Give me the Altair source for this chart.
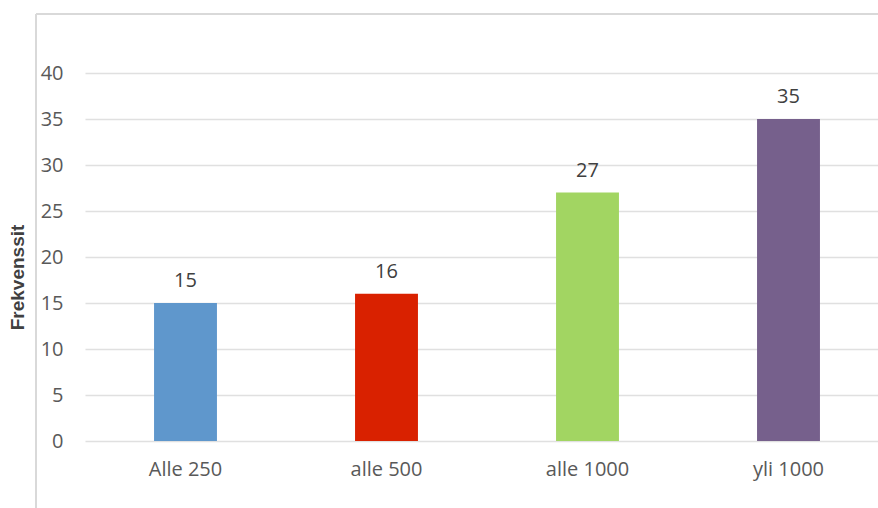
import altair as alt
import pandas as pd

categories = ["Alle 250", "alle 500", "alle 1000", "yli 1000"]
values = [15, 16, 27, 35]
colors = ["#5f97cc", "#d92100", "#a2d562", "#76608c"]

df = pd.DataFrame({"cat": categories, "val": values, "col": colors})

x = alt.X("cat:N", sort=categories, title=None,
          scale=alt.Scale(range=[0, 804], paddingInner=0.687, paddingOuter=0.3435),
          axis=alt.Axis(labelAngle=0, labelFont="Open Sans", labelFontSize=20,
                        labelColor="#595959", labelPadding=18, ticks=False, domain=False))
y = alt.Y("val:Q", title="Frekvenssit",
          scale=alt.Scale(domain=[0, 40]),
          axis=alt.Axis(values=[0, 5, 10, 15, 20, 25, 30, 35, 40], labelFont="Open Sans",
                        labelFontSize=20, labelColor="#595959", labelPadding=22,
                        ticks=False, domain=False, gridColor="#e0e0e0", gridWidth=1.5,
                        titleFont="Liberation Sans", titleFontWeight="bold", titleFontSize=19,
                        titleColor="#404040", titleAngle=270, titleAlign="center",
                        titleBaseline="middle", titleX=-68, titleY=204))

bars = alt.Chart(df).mark_bar().encode(
    x=x, y=y, color=alt.Color("col:N", scale=None)
)
labels = alt.Chart(df).mark_text(dy=-22, font="Open Sans", fontSize=20, color="#404040").encode(
    x=alt.X("cat:N", sort=categories), y="val:Q", text="val:Q"
)
border = alt.Chart(df).mark_rule(color="#d9d9d9", strokeWidth=2).encode(
    x=alt.value(-49), x2=alt.value(-49), y=alt.value(-59), y2=alt.value(440)
)
border_top = alt.Chart(df).mark_rule(color="#d9d9d9", strokeWidth=2).encode(
    x=alt.value(-49), x2=alt.value(800), y=alt.value(-59), y2=alt.value(-59)
)

chart = alt.layer(border, border_top, bars, labels).properties(
    width=793, height=368,
    autosize=alt.AutoSizeParams(type="none"),
    padding={"left": 85, "top": 73, "right": 0, "bottom": 67},
    background="white",
).configure_view(stroke=None)

chart.save("out.html", embed_options={"renderer": "svg", "actions": False})
